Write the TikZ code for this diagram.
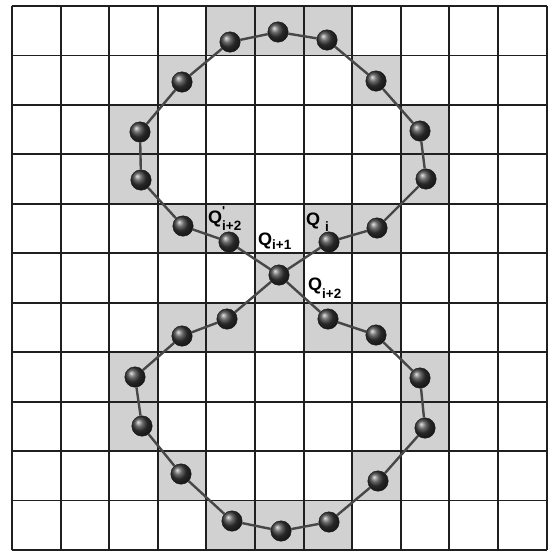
\documentclass[tikz,border=0pt]{standalone}
\usepackage{fontspec}
\setmainfont{Liberation Sans}
\newfontfamily\labfont{Liberation Sans}
\begin{document}
\begin{tikzpicture}[x=1pt,y=-1pt,
  cellgray/.style={fill=black!18},
  gridline/.style={draw=black!88,line width=1.9pt},
  conn/.style={draw=black!72,line width=2.4pt},
  ball/.style={circle,minimum size=20.5pt,inner sep=0pt,shading=ball,ball color=black!78,draw=black!90,line width=0.4pt},
  lab/.style={inner sep=0pt,anchor=base west,font=\labfont\bfseries}]
\useasboundingbox (0,0) rectangle (547,552);
\fill[white] (0,0) rectangle (547,552);
\def\cw{48.6}\def\ch{49.45}
\foreach \c/\r in {4/0,5/0,6/0,3/1,7/1,2/2,8/2,2/3,8/3,3/4,4/4,6/4,7/4,5/5,3/6,4/6,6/6,7/6,2/7,8/7,2/8,8/8,3/9,7/9,4/10,5/10,6/10}
  \fill[cellgray] ({12+\c*\cw},{6+\r*\ch}) rectangle ++(\cw,\ch);
\foreach \k in {0,...,11}{
  \draw[gridline] ({12+\k*\cw},6) -- ({12+\k*\cw},550);
  \draw[gridline] (12,{6+\k*\ch}) -- (546.6,{6+\k*\ch});
}
% balls
\node[ball] (c) at (279,275) {};
\foreach \n/\x/\y in {t1/329/242,t2/377/228,t3/426/179,t4/420/131,t5/376/81,t6/327/40,t7/278/32,t8/230/42,t9/182/82,t10/140/132,t11/141/180,t12/183/226,t13/229/242,
  b1/328/319,b2/376/335,b3/420/378,b4/425/428,b5/378/481,b6/329/522,b7/281/531,b8/232/521,b9/181/474,b10/142/426,b11/135/377,b12/182/336,b13/227/319}
  \node[ball] (\n) at (\x,\y) {};
\draw[conn] (c) -- (t1) -- (t2) -- (t3) -- (t4) -- (t5) -- (t6) -- (t7) -- (t8) -- (t9) -- (t10) -- (t11) -- (t12) -- (t13) -- (c);
\draw[conn] (c) -- (b1) -- (b2) -- (b3) -- (b4) -- (b5) -- (b6) -- (b7) -- (b8) -- (b9) -- (b10) -- (b11) -- (b12) -- (b13) -- (c);
% labels
\node[lab] (l1) at (208,223) {\fontsize{18}{18}\selectfont Q\rlap{\raisebox{8pt}{\fontsize{13}{13}\selectfont '}}\raisebox{-7pt}{\fontsize{13.5}{13.5}\selectfont i+2}};
\node[lab] (l2) at (258,245) {\fontsize{18}{18}\selectfont Q\raisebox{-4pt}{\fontsize{13.5}{13.5}\selectfont i+1}};
\node[lab] (l3) at (306,225) {\fontsize{18}{18}\selectfont Q\hspace{5pt}\raisebox{-6pt}{\fontsize{13.5}{13.5}\selectfont i}};
\node[lab] (l4) at (308,290.5) {\fontsize{18}{18}\selectfont Q\raisebox{-8pt}{\fontsize{13.5}{13.5}\selectfont i+2}};
\end{tikzpicture}
\end{document}
